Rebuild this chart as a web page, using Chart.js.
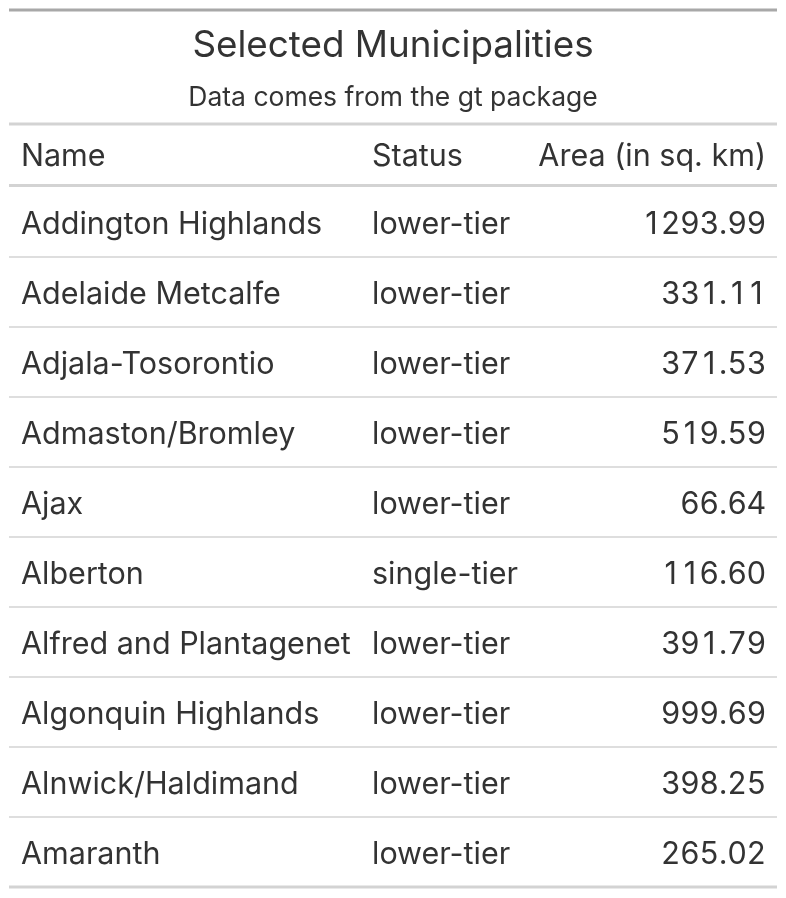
<!DOCTYPE html>
<html>
<head>
<meta charset="utf-8">
<script src="https://cdn.jsdelivr.net/npm/chart.js@4.4.1/dist/chart.umd.min.js"></script>
<style>
  html, body { margin: 0; padding: 0; background: #fff; }
  canvas { display: block; }
</style>
</head>
<body>
<canvas id="tbl" width="786" height="898"></canvas>
<script>
// table contents
const titleText = "Selected Municipalities";
const subtitleText = "Data comes from the gt package";
const columnLabels = ["Name", "Status", "Area (in sq. km)"];
const names = [
  "Addington Highlands", "Adelaide Metcalfe", "Adjala-Tosorontio", "Admaston/Bromley",
  "Ajax", "Alberton", "Alfred and Plantagenet", "Algonquin Highlands",
  "Alnwick/Haldimand", "Amaranth"
];
const statuses = [
  "lower-tier", "lower-tier", "lower-tier", "lower-tier", "lower-tier",
  "single-tier", "lower-tier", "lower-tier", "lower-tier", "lower-tier"
];
const areas = [1293.99, 331.11, 371.53, 519.59, 66.64, 116.60, 391.79, 999.69, 398.25, 265.02];

const FONT = "Inter, 'Noto Sans', sans-serif";
const ink = "#333333";

// x anchors of the three columns (chart-area relative, pixels)
const colX = [12, 363, 757];
const colAlign = ["left", "left", "right"];

const tablePlugin = {
  id: "gtTable",
  afterDraw(chart) {
    const ctx = chart.ctx;
    const area = chart.chartArea;
    const yScale = chart.scales.y;
    const meta = chart.getDatasetMeta(0);
    const L = area.left, R = area.right;
    ctx.save();

    function hline(y, w, color) {
      ctx.fillStyle = color;
      ctx.fillRect(L, y - w / 2, R - L, w);
    }
    function text(str, x, y, size, align) {
      ctx.fillStyle = ink;
      ctx.font = size + "px " + FONT;
      ctx.textAlign = align;
      ctx.textBaseline = "middle";
      ctx.fillText(str, x, y);
    }
    // right-aligned number with equal-width digits
    function number(str, x, y, size) {
      ctx.fillStyle = ink;
      ctx.font = size + "px " + FONT;
      ctx.textAlign = "center";
      ctx.textBaseline = "middle";
      const dw = ctx.measureText("0").width;
      let cx = x;
      for (let k = str.length - 1; k >= 0; k--) {
        const ch = str[k];
        const w = /[0-9]/.test(ch) ? dw : ctx.measureText(ch).width;
        ctx.fillText(ch, cx - w / 2, y);
        cx -= w;
      }
    }

    // top border, title, subtitle
    hline(10, 3, "#a8a8a8");
    text(titleText, (L + R) / 2, 46, 36.8, "center");
    text(subtitleText, (L + R) / 2, 98, 26.5, "center");
    hline(124, 3, "#d3d3d3");

    // column labels
    columnLabels.forEach((lab, c) => text(lab, L + colX[c], 157, 30.5, colAlign[c]));
    hline(185.5, 3, "#d3d3d3");

    // body rows, positioned from the y scale
    meta.data.forEach((pt, i) => {
      text(names[i], L + colX[0], pt.y + 3, 30.5, colAlign[0]);
      text(statuses[i], L + colX[1], pt.y + 3, 30.5, colAlign[1]);
      number(areas[i].toFixed(2), L + colX[2], pt.y + 3, 30.5);
      const yb = yScale.getPixelForValue(i + 1);
      if (i < names.length - 1) hline(yb, 1.5, "#d3d3d3");
      else hline(yb, 3, "#d3d3d3");
    });
    ctx.restore();
  }
};

new Chart(document.getElementById("tbl"), {
  type: "scatter",
  data: {
    datasets: [{
      data: areas.map((a, i) => ({ x: 0.5, y: i + 0.5 })),
      pointRadius: 0,
      showLine: false
    }]
  },
  options: {
    responsive: false,
    animation: false,
    events: [],
    layout: { padding: { left: 9, right: 9, top: 187, bottom: 11 } },
    scales: {
      x: { display: false, min: 0, max: 1 },
      y: { display: false, min: 0, max: names.length, reverse: true }
    },
    plugins: { legend: { display: false }, tooltip: { enabled: false } }
  },
  plugins: [tablePlugin]
});
</script>
</body>
</html>
